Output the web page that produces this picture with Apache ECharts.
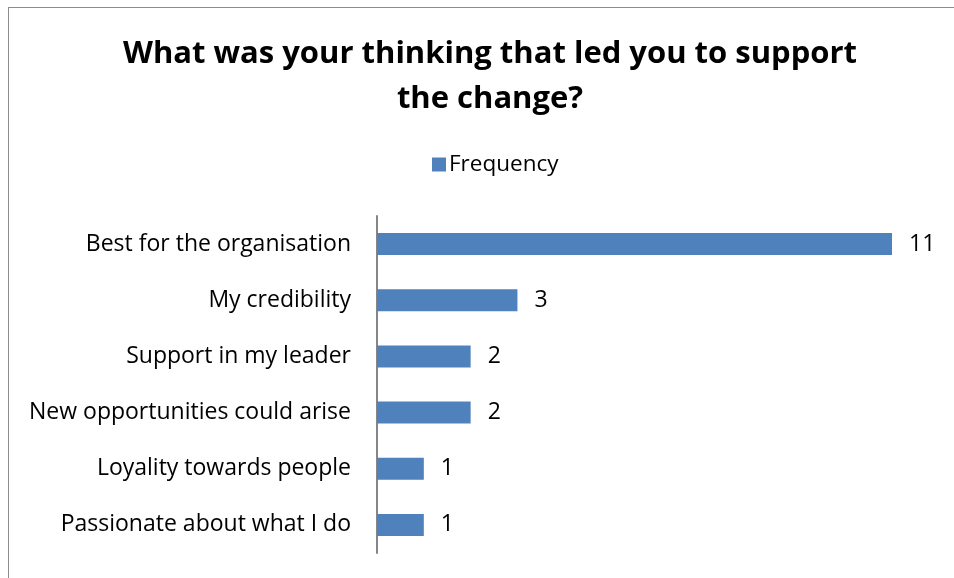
<!DOCTYPE html>
<html>
<head>
<meta charset="utf-8">
<script src="https://cdn.jsdelivr.net/npm/echarts@6/dist/echarts.min.js"></script>
<style>
html,body{margin:0;padding:0;background:#fff;}
#frame{position:absolute;left:8px;top:7px;width:1000px;height:1000px;border:1px solid #8c8c8c;box-sizing:border-box;}
#chart{position:absolute;left:0;top:0;width:954px;height:578px;}
</style>
</head>
<body>
<div id="frame"></div>
<div id="chart"></div>
<script>
const categories = ["Best for the organisation","My credibility","Support in my leader","New opportunities could arise","Loyality towards people","Passionate about what I do"];
const frequency = [11,3,2,2,1,1];
const seriesName = "Frequency";
const titleText = "What was your thinking that led you to support\nthe change?";

const chart = echarts.init(document.getElementById('chart'), null, {renderer:'canvas'});
const font = "'Open Sans', sans-serif";
chart.setOption({
  backgroundColor: 'transparent',
  animation: false,
  title: {
    text: titleText,
    left: 485, top: 27, textAlign: 'center',
    textStyle: {fontFamily: font, fontWeight: 'bold', fontSize: 31, lineHeight: 45, color: '#000'}
  },
  legend: {
    data: [seriesName], top: 148, left: 427,
    itemWidth: 14, itemHeight: 14, itemGap: 6,
    icon: 'rect',
    textStyle: {fontFamily: font, fontSize: 22.5, color: '#000', padding:[0,0,0,-2]}
  },
  grid: {left: 377, top: 216, width: 515, height: 337, containLabel: false},
  xAxis: {type: 'value', min: 0, max: 11, show: false},
  yAxis: {
    type: 'category', data: categories, inverse: true,
    axisLine: {show: true, lineStyle: {color: '#868686', width: 2}},
    axisTick: {show: false},
    axisLabel: {fontFamily: font, fontSize: 23, color: '#000', margin: 26}
  },
  series: [{
    name: seriesName, type: 'bar', data: frequency, barWidth: 22,
    itemStyle: {color: '#4F81BD'},
    label: {show: true, position: 'right', distance: 17, fontFamily: font, fontSize: 23, color: '#000'}
  }]
});
</script>
</body>
</html>
